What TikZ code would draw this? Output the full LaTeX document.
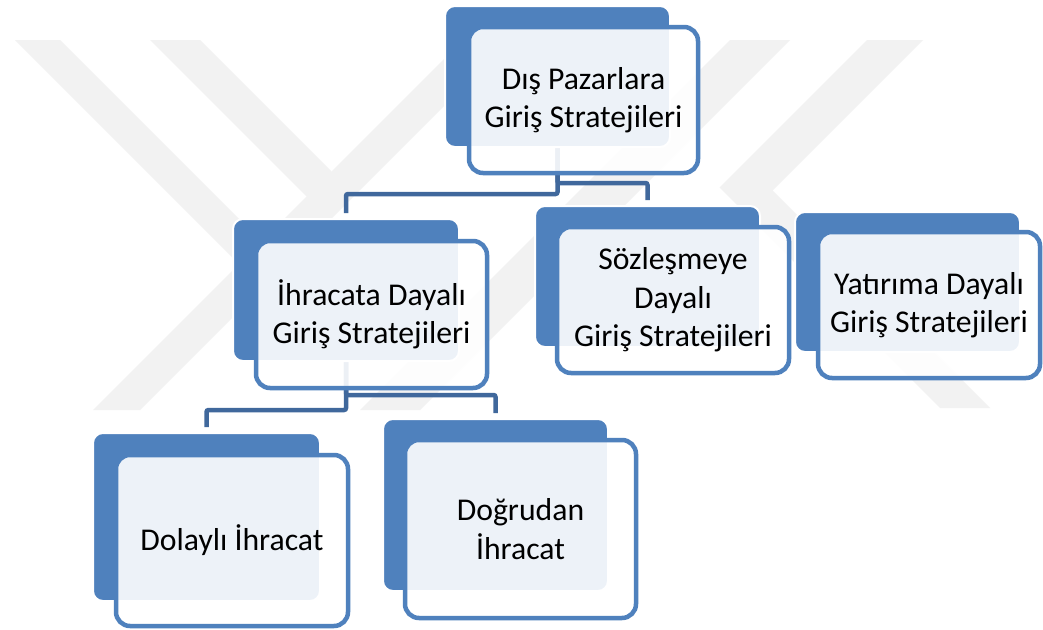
\documentclass[tikz,border=0pt]{standalone}
\usepackage{fontspec}
\setmainfont{Carlito}
\definecolor{boxblue}{RGB}{79,129,189}
\definecolor{linkblue}{RGB}{64,104,156}
\definecolor{wmgray}{RGB}{242,242,242}
\pgfdeclarelayer{bg}
\pgfdeclarelayer{wm}
\pgfdeclarelayer{links}
\pgfsetlayers{bg,wm,links,main}
\begin{document}
\begin{tikzpicture}[x=1pt,y=-1pt,
  backbox/.style={fill=boxblue,draw=white,line width=2pt,rounded corners=10pt,inner sep=0pt},
  frontbox/.style={fill=white,fill opacity=0.9,text opacity=1,draw=boxblue,line width=4.5pt,rounded corners=14pt,align=center,inner sep=0pt,font=\fontsize{31.7}{38.5}\selectfont},
  link/.style={draw=linkblue,line width=4.5pt,rounded corners=2pt,shorten >=5pt},
  wmband/.style={fill=wmgray}]
\begin{pgfonlayer}{bg}
\fill[white] (0,0) rectangle (1043,629);
\end{pgfonlayer}
\useasboundingbox (0,0) rectangle (1043,629);

% top node
\node[backbox,minimum width=225pt,minimum height=141pt] (topB) at (557.5,76.5) {};
\node[frontbox,minimum width=229pt,minimum height=146pt] (top) at (583.5,100) {Dış Pazarlara\\Giriş Stratejileri};

% second row
\node[backbox,minimum width=226pt,minimum height=142pt] (ihrB) at (346,290) {};
\node[frontbox,minimum width=231pt,minimum height=147pt] (ihr) at (371.5,314.5) {İhracata Dayalı\\Giriş Stratejileri};

\node[backbox,minimum width=225pt,minimum height=141pt] (sozB) at (647.5,276.5) {};
\node[frontbox,minimum width=232pt,minimum height=146pt] (soz) at (673,300) {Sözleşmeye\\Dayalı\\Giriş Stratejileri};

\node[backbox,minimum width=225pt,minimum height=140pt] (yatB) at (907.5,282) {};
\node[frontbox,minimum width=222pt,minimum height=146pt] (yat) at (929,305) {Yatırıma Dayalı\\Giriş Stratejileri};

% third row
\node[backbox,minimum width=227pt,minimum height=168pt] (dolB) at (206.5,517) {};
\node[frontbox,minimum width=232pt,minimum height=171pt] (dol) at (232,540.5) {Dolaylı İhracat};

\node[backbox,minimum width=225pt,minimum height=172pt] (dogB) at (495.5,505) {};
\node[frontbox,minimum width=231pt,minimum height=178pt] (dog) at (520.5,529) {Doğrudan\\İhracat};

\begin{pgfonlayer}{links}
\draw[link] (topB.south) -- ++(0,46) -| (ihrB.north);
\draw[link] (topB.south) -- ++(0,35) -| (sozB.north);
\draw[link] (ihrB.south) -- ++(0,48) -| (dolB.north);
\draw[link] (ihrB.south) -- ++(0,33) -| (dogB.north);
\end{pgfonlayer}

\begin{pgfonlayer}{wm}
\fill[wmband] (15,40) -- (60,40) -- (285,265) -- (262.5,287.5) -- cycle;
\fill[wmband] (150,40) -- (200,40) -- (331.5,171.5) -- (330,220) -- cycle;
\fill[wmband] (93,410) -- (140,410) -- (510,40) -- (463,40) -- cycle;
\fill[wmband] (730,40) -- (790,40) -- (420,410) -- (360,410) -- cycle;
\fill[wmband] (867,40) -- (923,40) -- (772.5,190.5) -- (990,408) -- (940,408) -- (719.5,187.5) -- cycle;
\end{pgfonlayer}
\end{tikzpicture}
\end{document}
